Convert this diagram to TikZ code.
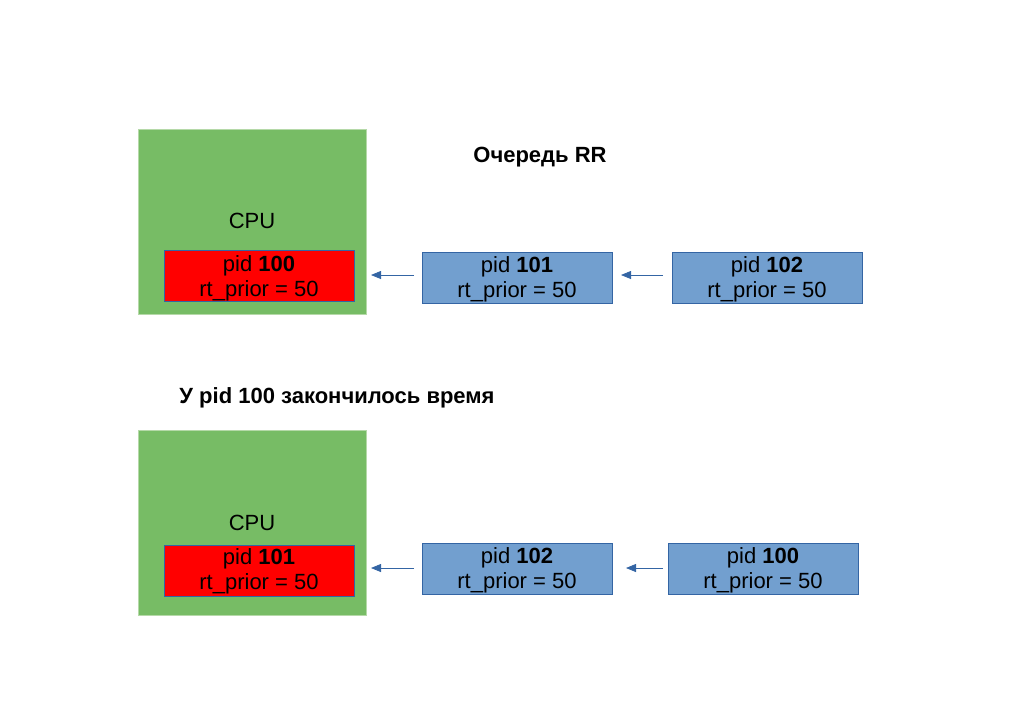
\documentclass[tikz,border=0pt]{standalone}
\usepackage{fontspec}
\setmainfont{Liberation Sans}
\usetikzlibrary{arrows.meta}
\definecolor{cpugreen}{HTML}{77BC65}
\definecolor{procblue}{HTML}{729FCF}
\definecolor{procborder}{HTML}{3465A4}
\definecolor{cpuborder}{HTML}{B5D9A8}
\begin{document}
\begin{tikzpicture}[x=1pt,y=-1pt,
  txt/.style={font=\fontsize{22}{25}\selectfont, align=center, inner sep=0pt},
  cpubox/.style={draw=cpuborder, fill=cpugreen, line width=0.8pt, minimum width=228pt, minimum height=185pt, inner sep=0pt},
  runbox/.style={txt, draw=procborder, fill=red, line width=0.8pt, minimum width=190pt, minimum height=51pt, text depth=0pt},
  qbox/.style={txt, draw=procborder, fill=procblue, line width=0.8pt, minimum width=190pt, minimum height=51pt},
  ttl/.style={font=\fontsize{22}{25}\bfseries\selectfont, inner sep=0pt},
  arr/.style={draw=procborder, line width=0.8pt, -{Triangle[length=10pt,width=8pt]}}
]
\useasboundingbox (0,0) rectangle (1024,724);
% top
\node[cpubox] (cpu1) at (252,221.5) {};
\node[txt] (cpul1) at (252,221) {CPU};
\node[runbox] (r1) at (259,275.5) {};
\node[txt] (r1t) at (259,278) {pid \textbf{100}\\rt\_prior = 50};
\node[qbox] (q11) at (517,277.5) {};
\node[txt] (q11t) at (517,279) {pid \textbf{101}\\rt\_prior = 50};
\node[qbox] (q12) at (767,277.5) {};
\node[txt] (q12t) at (767,279) {pid \textbf{102}\\rt\_prior = 50};
\node[ttl] (t1) at (540,157) {Очередь RR};
\coordinate (a1s) at (414,275);
\coordinate (a1e) at (371,275);
\coordinate (a2s) at (663,275);
\coordinate (a2e) at (621,275);
\draw[arr] (a1s) -- (a1e);
\draw[arr] (a2s) -- (a2e);
% bottom
\node[ttl] (t2) at (337,398) {У pid 100 закончилось время};
\node[cpubox] (cpu2) at (252,523) {};
\node[txt] (cpul2) at (252,523) {CPU};
\node[runbox] (r2) at (259,570.5) {};
\node[txt] (r2t) at (259,571) {pid \textbf{101}\\rt\_prior = 50};
\node[qbox] (q21) at (517,569) {};
\node[txt] (q21t) at (517,570) {pid \textbf{102}\\rt\_prior = 50};
\node[qbox] (q22) at (763,569) {};
\node[txt] (q22t) at (763,570) {pid \textbf{100}\\rt\_prior = 50};
\coordinate (b1s) at (414,568);
\coordinate (b1e) at (371,568);
\coordinate (b2s) at (663,568);
\coordinate (b2e) at (626,568);
\draw[arr] (b1s) -- (b1e);
\draw[arr] (b2s) -- (b2e);
\end{tikzpicture}
\end{document}
